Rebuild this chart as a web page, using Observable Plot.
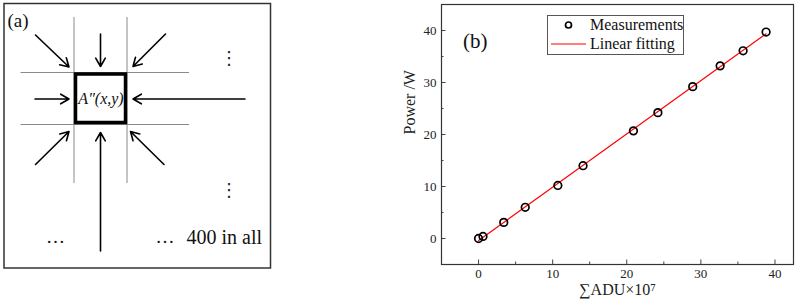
<!DOCTYPE html>
<html><head><meta charset="utf-8">
<script src="https://cdn.jsdelivr.net/npm/d3@7"></script>
<script src="https://cdn.jsdelivr.net/npm/@observablehq/plot@0.6"></script>
<style>
body{margin:0;background:#fff;}
#wrap{position:relative;width:797px;height:303px;overflow:hidden;font-family:"Liberation Serif","Times New Roman",serif;background:#fff;}
#pa{position:absolute;left:0;top:0;}
#pb{position:absolute;left:380px;top:0;}
#legend{position:absolute;left:547px;top:15px;width:137px;height:40px;border:1px solid #555;background:#fff;box-sizing:border-box;}
#legend span{position:absolute;left:42px;font-size:16px;line-height:16px;white-space:nowrap;color:#111;}
</style></head><body>
<div id="wrap">
  <div id="pa"></div>
  <div id="pb"></div>
  <div id="legend">
    <svg width="135" height="38" style="position:absolute;left:0;top:0">
      <circle cx="20.5" cy="9" r="3" fill="none" stroke="#000" stroke-width="1.7"/>
      <line x1="3" y1="28" x2="38" y2="28" stroke="#ff0000" stroke-width="1.2"/>
    </svg>
    <span id="lg1" style="top:1px">Measurements</span>
    <span id="lg2" style="top:20px">Linear fitting</span>
  </div>
</div>
<script>
// ---------- Panel (b) data ----------
const adu   = [0, 0.6, 3.4, 6.3, 10.7, 14.1, 20.9, 24.2, 28.9, 32.6, 35.7, 38.8];
const power = [0, 0.4, 3.1, 6.0, 10.2, 14.0, 20.7, 24.2, 29.2, 33.2, 36.1, 39.7];
const xMajorTicks = [0, 10, 20, 30, 40];
const xMinorTicks = [5, 15, 25, 35];
const yMajorTicks = [0, 10, 20, 30, 40];
const yMinorTicks = [-5, 5, 15, 25, 35];
const xTitle = "∑ADU×10⁷";
const yTitle = "Power /W";
const legendLabels = ["Measurements", "Linear fitting"];

// ---------- Panel (a) diagram data (diagram units) ----------
const outerBox = [{x1: 4, y1: 3.5, x2: 270.5, y2: 268}];
const gridLines = [
  {x1: 73.5, y1: 16.5, x2: 73.5, y2: 182.5},
  {x1: 126.5, y1: 16.5, x2: 126.5, y2: 182.5},
  {x1: 20, y1: 72, x2: 188.5, y2: 72},
  {x1: 20, y1: 124, x2: 188.5, y2: 124}
];
const centerCell = [{x1: 75.5, y1: 74, x2: 125.5, y2: 122.5}];
const arrows = [
  {x1: 35, y1: 34.5, x2: 68.5, y2: 66.5},
  {x1: 100, y1: 33.5, x2: 100, y2: 66},
  {x1: 165, y1: 33.5, x2: 132.5, y2: 66},
  {x1: 34.5, y1: 98.5, x2: 68.5, y2: 98.5},
  {x1: 244.5, y1: 98.5, x2: 132.5, y2: 98.5},
  {x1: 35, y1: 164, x2: 68.5, y2: 131},
  {x1: 100, y1: 250.5, x2: 100, y2: 132},
  {x1: 163.5, y1: 164, x2: 130, y2: 131}
];
const panelLabel = [{x: 7, y: 20, text: "(a)"}];
const cellLabel = [{x: 100.5, y: 98, text: "A″(x,y)"}];
const vDots = [{x: 228.5, y: 58, text: "⋮"}, {x: 228.5, y: 190, text: "⋮"}];
const hDots = [{x: 55, y: 236, text: "…"}, {x: 164.5, y: 236, text: "…"}];
const countLabel = [{x: 186, y: 237, text: "400 in all"}];

const serif = "'Liberation Serif', 'Times New Roman', serif";

// ---------- Panel (a) ----------
const pa = Plot.plot({
  width: 280, height: 303, margin: 0,
  x: {domain: [0, 280], range: [0, 280], axis: null},
  y: {domain: [0, 303], range: [0, 303], axis: null},
  style: {fontFamily: serif, background: "transparent", color: "#111", overflow: "visible"},
  marks: [
    Plot.link(gridLines, {x1: "x1", y1: "y1", x2: "x2", y2: "y2", stroke: "#8a8a8a", strokeWidth: 1}),
    Plot.rect(outerBox, {x1: "x1", y1: "y1", x2: "x2", y2: "y2", fill: "none", stroke: "#333", strokeWidth: 1.5}),
    Plot.rect(centerCell, {x1: "x1", y1: "y1", x2: "x2", y2: "y2", fill: "none", stroke: "#000", strokeWidth: 3.5}),
    Plot.arrow(arrows, {x1: "x1", y1: "y1", x2: "x2", y2: "y2", stroke: "#000", strokeWidth: 1.6, headLength: 9, headAngle: 60}),
    Plot.text(panelLabel, {x: "x", y: "y", text: "text", textAnchor: "start", fontSize: 19, fill: "#111"}),
    Plot.text(cellLabel, {x: "x", y: "y", text: "text", fontSize: 16, fontStyle: "italic", fill: "#111"}),
    Plot.text(vDots, {x: "x", y: "y", text: "text", fontSize: 18, fontFamily: "DejaVu Sans", fill: "#222"}),
    Plot.text(hDots, {x: "x", y: "y", text: "text", fontSize: 19, fill: "#111"}),
    Plot.text(countLabel, {x: "x", y: "y", text: "text", textAnchor: "start", fontSize: 20, fill: "#111"})
  ]
});
document.getElementById("pa").append(pa);

// ---------- Panel (b) ----------
const pts = adu.map((x, i) => ({x, y: power[i]}));
const plotH = 303 - 4 - 39;
const plotW = 417 - 61 - 4;
const pb = Plot.plot({
  width: 417, height: 303,
  marginLeft: 61, marginRight: 4, marginTop: 4, marginBottom: 39,
  x: {domain: [-5, 42.5]},
  y: {domain: [-5, 45]},
  style: {fontFamily: serif, fontSize: "13px", color: "#222", background: "transparent", overflow: "visible"},
  marks: [
    Plot.tickX(xMajorTicks, {x: d => d, insetTop: plotH - 4.5, stroke: "#444"}),
    Plot.tickX(xMinorTicks, {x: d => d, insetTop: plotH - 2.5, stroke: "#444"}),
    Plot.tickY(yMajorTicks, {y: d => d, insetRight: plotW - 4.5, stroke: "#444"}),
    Plot.tickY(yMinorTicks, {y: d => d, insetRight: plotW - 2.5, stroke: "#444"}),
    Plot.axisX(xMajorTicks, {tickSize: 0, tickPadding: 4, label: null, fontSize: 13}),
    Plot.axisY(yMajorTicks, {tickSize: 0, tickPadding: 5, label: null, fontSize: 13}),
    Plot.linearRegressionY(pts, {x: "x", y: "y", stroke: "#ff0000", strokeWidth: 1.2, ci: 0}),
    Plot.dot(pts, {x: "x", y: "y", r: 3.8, stroke: "#000", strokeWidth: 1.7, fill: "none"}),
    Plot.frame({stroke: "#333", strokeWidth: 1.2}),
    Plot.text([xTitle], {frameAnchor: "bottom", dy: 30, fontSize: 16, fill: "#222"}),
    Plot.text([yTitle], {frameAnchor: "left", dx: -32, rotate: -90, fontSize: 16, fill: "#222"}),
    Plot.text(["(b)"], {frameAnchor: "top-left", dx: 21.5, dy: 29, textAnchor: "start", fontSize: 21, fill: "#111"})
  ]
});
document.getElementById("pb").append(pb);
document.getElementById("lg1").textContent = legendLabels[0];
document.getElementById("lg2").textContent = legendLabels[1];
</script>
</body></html>
